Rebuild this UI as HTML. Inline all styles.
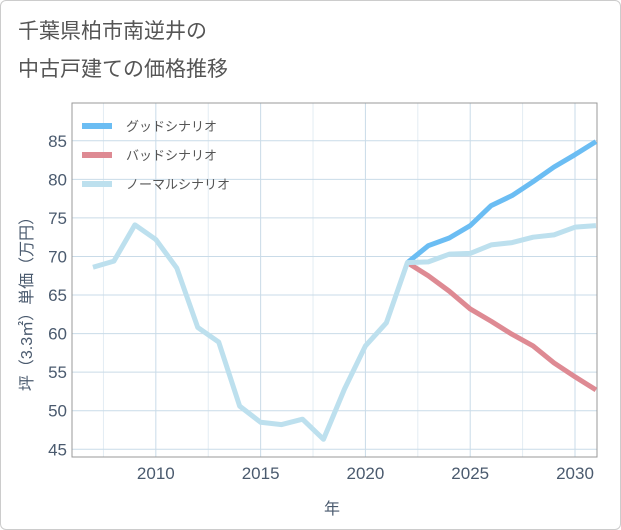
<!DOCTYPE html>
<html><head><meta charset="utf-8"><style>
body{margin:0;background:#fff}
#wrap{position:relative;width:619px;height:528px;border:1px solid #ccc;border-radius:6px;background:#fff;overflow:hidden}
.t{font-family:"Liberation Sans","Noto Sans CJK JP",sans-serif}
</style></head><body>
<div id="wrap">
<svg id="c" width="621" height="530" style="position:absolute;left:-1px;top:-1px">
<text class="t" x="18" y="38" font-size="21" fill="#555">千葉県柏市南逆井の</text>
<text class="t" x="18" y="76" font-size="21" fill="#555">中古戸建ての価格推移</text>
<g id="grid"></g><g id="axes"></g><g id="lines"></g><g id="legend"></g>
</svg></div>
<script>
const years=[2007,2008,2009,2010,2011,2012,2013,2014,2015,2016,2017,2018,2019,2020,2021,2022,2023,2024,2025,2026,2027,2028,2029,2030,2031];
const normal=[68.6,69.4,74.1,72.2,68.5,60.8,58.9,50.6,48.5,48.2,48.9,46.3,52.8,58.4,61.4,69.2,69.3,70.3,70.4,71.5,71.8,72.5,72.8,73.8,74.0];
const goodYears=[2022,2023,2024,2025,2026,2027,2028,2029,2030,2031];
const good=[69.2,71.4,72.4,74.0,76.6,77.9,79.7,81.6,83.2,84.9];
const bad=[69.2,67.5,65.5,63.2,61.6,59.9,58.4,56.2,54.4,52.7];
const xTicks=[2010,2015,2020,2025,2030];
const yTicks=[45,50,55,60,65,70,75,80,85];
const L=72,R=597,T=103,B=457,x0=2006.0,x1=2031.05,y0=44.0,y1=89.9;
const X=v=>L+(v-x0)/(x1-x0)*(R-L), Y=v=>B-(v-y0)/(y1-y0)*(B-T);
const NS='http://www.w3.org/2000/svg';
function mk(tag,attrs,parent,txt){const e=document.createElementNS(NS,tag);for(const k in attrs)e.setAttribute(k,attrs[k]);if(txt!==undefined)e.textContent=txt;document.getElementById(parent).appendChild(e);return e;}
for(let v=2007.5;v<2031;v+=2.5){if(v%5===0)continue;const e=mk('line',{x1:X(v),x2:X(v),y1:T,y2:B,stroke:'#e3ecf3','stroke-width':1},'grid');

}
xTicks.forEach(v=>{const e=mk('line',{x1:X(v),x2:X(v),y1:T,y2:B,stroke:'#c9dbe8','stroke-width':1},'grid');


const t=mk('text',{x:X(v),y:479,'text-anchor':'middle','font-size':17,fill:'#4a5a6e',class:'t'},'axes',v);

});
yTicks.forEach(v=>{const e=mk('line',{x1:L,x2:R,y1:Y(v),y2:Y(v),stroke:'#c9dbe8','stroke-width':1},'grid');


const t=mk('text',{x:67,y:Y(v)+6,'text-anchor':'end','font-size':17,fill:'#4a5a6e',class:'t'},'axes',v);

});
const fr=mk('rect',{x:L,y:T,width:R-L,height:B-T,fill:'none',stroke:'#999','stroke-width':1},'axes');


const xt=mk('text',{x:332,y:514,'text-anchor':'middle','font-size':16,fill:'#4a5a6e',class:'t'},'axes','年');


const yt=mk('text',{transform:'translate(32,300) rotate(-90)','text-anchor':'middle','font-size':16,fill:'#4a5a6e',class:'t'},'axes','坪（3.3㎡）単価（万円）');


function line(xs,vs,color,name){const p=mk('polyline',{points:xs.map((x,i)=>X(x)+','+Y(vs[i])).join(' '),fill:'none',stroke:color,'stroke-width':5,'stroke-linejoin':'round'},'lines');

}
line(goodYears,good,'#6bbdf3','good-scenario-line');
line(goodYears,bad,'#de8a93','bad-scenario-line');
line(years,normal,'#bde0ee','normal-scenario-line');
[['グッドシナリオ','#6bbdf3'],['バッドシナリオ','#de8a93'],['ノーマルシナリオ','#bde0ee']].forEach((d,i)=>{const y=126+i*29;
const r=mk('rect',{x:82,y:y-3,width:30,height:6,fill:d[1]},'legend');


const t=mk('text',{x:126,y:y+5,'font-size':13,fill:'#555',class:'t'},'legend',d[0]);

});
</script>
</body></html>
